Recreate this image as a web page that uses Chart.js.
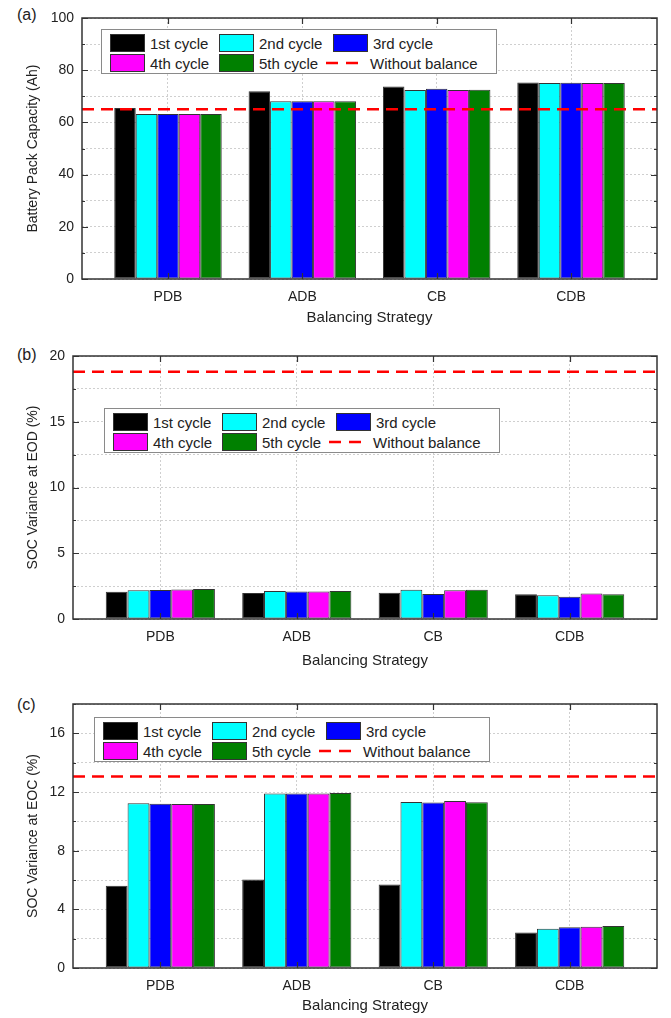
<!DOCTYPE html>
<html>
<head>
<meta charset="utf-8">
<script src="https://cdn.jsdelivr.net/npm/chart.js@4.4.1/dist/chart.umd.min.js"></script>
<style>
body { margin: 0; background: #fff; width: 671px; height: 1018px; position: relative; overflow: hidden;
       font-family: "Liberation Sans", Arial, sans-serif; color: #222; }
.pane { position: absolute; left: 0; }
.tag { position: absolute; left: 17px; font-size: 16px; line-height: 18px; }
.legend { position: absolute; border: 1px solid #8a8a8a; background: #fff; width: 396px; height: 45px; box-sizing: border-box; }
.item { position: absolute; height: 18px; display: flex; align-items: center; font-size: 15px; white-space: nowrap; }
.sw { width: 35px; height: 18px; border: 1px solid #333; box-sizing: border-box; margin-right: 5px; }
.ln { margin-right: 10px; }
</style>
</head>
<body>

<div class="tag" style="top:6px">(a)</div>
<div class="tag" style="top:346px">(b)</div>
<div class="tag" style="top:696px">(c)</div>

<div class="pane" style="top:0px"><canvas id="capChart" width="671" height="335"></canvas></div>
<div class="pane" style="top:338px"><canvas id="eodChart" width="671" height="342"></canvas></div>
<div class="pane" style="top:686px"><canvas id="eocChart" width="671" height="332"></canvas></div>

<div class="legend" id="legA" style="left:101px;top:29px"></div>
<div class="legend" id="legB" style="left:104px;top:408px"></div>
<div class="legend" id="legC" style="left:94px;top:717px"></div>

<script>
var categories = ['PDB', 'ADB', 'CB', 'CDB'];
var cycleNames = ['1st cycle', '2nd cycle', '3rd cycle', '4th cycle', '5th cycle'];
var cycleColors = ['#000000', '#00ffff', '#0000ff', '#ff00ff', '#008000'];
var noBalanceName = 'Without balance';
var xTitle = 'Balancing Strategy';

// (a) battery pack capacity (Ah), one array per cycle, values per strategy
var cap1 = [65.5, 71.9, 73.8, 75.3];
var cap2 = [63.2, 68.1, 72.4, 75.1];
var cap3 = [63.2, 68.1, 72.9, 75.2];
var cap4 = [63.2, 68.1, 72.4, 75.1];
var cap5 = [63.2, 68.1, 72.5, 75.1];
var capNoBalance = 65;

// (b) SOC variance at EOD (%)
var eod1 = [2.08, 1.98, 2.0, 1.88];
var eod2 = [2.18, 2.13, 2.23, 1.8];
var eod3 = [2.2, 2.1, 1.9, 1.7];
var eod4 = [2.25, 2.1, 2.18, 1.93];
var eod5 = [2.28, 2.13, 2.23, 1.88];
var eodNoBalance = 18.8;

// (c) SOC variance at EOC (%)
var eoc1 = [5.6, 6.03, 5.7, 2.42];
var eoc2 = [11.23, 11.89, 11.32, 2.67];
var eoc3 = [11.2, 11.89, 11.28, 2.78];
var eoc4 = [11.19, 11.89, 11.39, 2.82];
var eoc5 = [11.19, 11.93, 11.3, 2.87];
var eocNoBalance = 13.05;

var xMin = 0.36, xMax = 4.64;

// frame box + inward ticks (Origin style)
var framePlugin = {
    id: 'frame',
    afterDatasetsDraw: function (chart) {
        var a = chart.chartArea, ctx = chart.ctx;
        var ys = chart.scales.y, xs = chart.scales.x;
        ctx.save();
        ctx.strokeStyle = '#333';
        ctx.lineWidth = 1.2;
        ys.ticks.forEach(function (t) {
            var py = Math.round(ys.getPixelForValue(t.value)) + 0.5;
            var len = t.label !== '' ? 6 : 3;
            ctx.beginPath();
            ctx.moveTo(a.left, py); ctx.lineTo(a.left + len, py);
            ctx.moveTo(a.right, py); ctx.lineTo(a.right - len, py);
            ctx.stroke();
        });
        xs.ticks.forEach(function (t) {
            var px = Math.round(xs.getPixelForValue(t.value)) + 0.5;
            ctx.beginPath();
            ctx.moveTo(px, a.bottom); ctx.lineTo(px, a.bottom - 6);
            ctx.moveTo(px, a.top); ctx.lineTo(px, a.top + 6);
            ctx.stroke();
        });
        ctx.lineWidth = 1.5;
        ctx.strokeRect(a.left, a.top, a.right - a.left, a.bottom - a.top);
        ctx.restore();
    }
};

function makeChart(id, series, noBalance, yMax, yStep, labelStep, yTitle, lay) {
    var datasets = series.map(function (vals, k) {
        return {
            label: cycleNames[k],
            data: vals.map(function (v, i) { return { x: i + 1, y: v }; }),
            backgroundColor: cycleColors[k],
            borderColor: '#333',
            borderWidth: 1,
            borderSkipped: false,
            categoryPercentage: 0.8,
            barPercentage: 1.0,
            order: 1
        };
    });
    datasets.push({
        type: 'line',
        label: noBalanceName,
        data: [{ x: xMin, y: noBalance }, { x: xMax, y: noBalance }],
        borderColor: '#ff0000',
        borderWidth: 2.5,
        borderDash: [12, 7],
        pointRadius: 0,
        fill: false,
        order: 0
    });

    return new Chart(document.getElementById(id).getContext('2d'), {
        type: 'bar',
        data: { datasets: datasets },
        plugins: [framePlugin],
        options: {
            responsive: false,
            animation: false,
            devicePixelRatio: 1,
            layout: { padding: { top: lay.top, right: 14, left: 0, bottom: lay.padBottom } },
            scales: {
                x: {
                    type: 'linear',
                    min: xMin,
                    max: xMax,
                    offset: false,
                    afterBuildTicks: function (s) {
                        s.ticks = categories.map(function (c, i) { return { value: i + 1 }; });
                    },
                    afterFit: function (s) { s.height = lay.xHeight; },
                    grid: { color: '#cfcfcf', lineWidth: 1, drawTicks: false, offset: false },
                    border: { display: false, dash: [2, 2] },
                    ticks: {
                        padding: lay.xPad,
                        color: '#222',
                        font: { family: 'Liberation Sans', size: 14 },
                        autoSkip: false,
                        maxRotation: 0,
                        callback: function (v) { return categories[v - 1]; }
                    },
                    title: {
                        display: true,
                        text: xTitle,
                        color: '#222',
                        font: { family: 'Liberation Sans', size: 15 },
                        padding: { top: 0, bottom: 0 }
                    }
                },
                y: {
                    min: 0,
                    max: yMax,
                    afterFit: function (s) { s.width = lay.left; },
                    grid: { color: '#cfcfcf', lineWidth: 1, drawTicks: false },
                    border: { display: false, dash: [2, 2] },
                    ticks: {
                        stepSize: yStep,
                        padding: 8,
                        autoSkip: false,
                        color: '#222',
                        font: { family: 'Liberation Sans', size: 14 },
                        callback: function (v) {
                            var r = v / labelStep;
                            return Math.abs(r - Math.round(r)) < 1e-6 ? v : '';
                        }
                    },
                    title: {
                        display: true,
                        text: yTitle,
                        color: '#222',
                        font: { family: 'Liberation Sans', size: 14 },
                        padding: { top: lay.yTitlePad, bottom: 0 }
                    }
                }
            },
            plugins: {
                legend: { display: false },
                tooltip: { enabled: false }
            }
        }
    });
}

function makeLegend(id) {
    var box = document.getElementById(id);
    var cols = [8, 117, 231];
    var rows = [4, 24];
    var html = '';
    cycleNames.forEach(function (name, k) {
        html += '<div class="item" style="left:' + cols[k % 3] + 'px;top:' + rows[Math.floor(k / 3)] + 'px">' +
            '<div class="sw" style="background:' + cycleColors[k] + '"></div>' + name + '</div>';
    });
    html += '<div class="item" style="left:' + (cols[2] - 7) + 'px;top:' + rows[1] + 'px">' +
        '<svg class="ln" width="34" height="6"><line x1="0" y1="3" x2="34" y2="3" stroke="#ff0000" stroke-width="2.5" stroke-dasharray="12 8"/></svg>' +
        noBalanceName + '</div>';
    box.innerHTML = html;
}

makeChart('capChart', [cap1, cap2, cap3, cap4, cap5], capNoBalance, 100, 10, 20,
    'Battery Pack Capacity (Ah)', { top: 18, left: 82, xHeight: 48, padBottom: 8, xPad: 10, yTitlePad: 25 });
makeChart('eodChart', [eod1, eod2, eod3, eod4, eod5], eodNoBalance, 20, 2.5, 5,
    'SOC Variance at EOD (%)', { top: 18, left: 73, xHeight: 51, padBottom: 10, xPad: 10, yTitlePad: 25 });
makeChart('eocChart', [eoc1, eoc2, eoc3, eoc4, eoc5], eocNoBalance, 18, 2, 4,
    'SOC Variance at EOC (%)', { top: 18, left: 73, xHeight: 47, padBottom: 3, xPad: 10, yTitlePad: 25 });

makeLegend('legA');
makeLegend('legB');
makeLegend('legC');
</script>
</body>
</html>
